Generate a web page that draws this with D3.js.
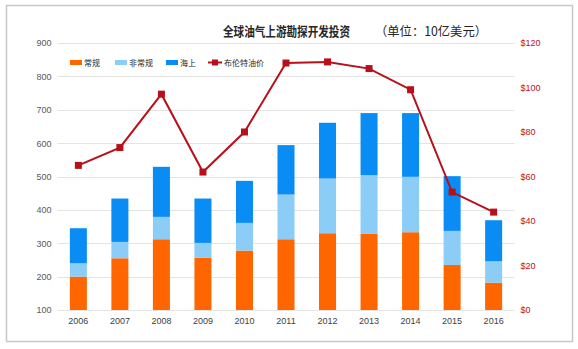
<!DOCTYPE html>
<html>
<head>
<meta charset="utf-8">
<script src="https://cdn.jsdelivr.net/npm/d3@7"></script>
<style>
  body { margin: 0; background: #fff; }
  svg { font-family: "Noto Sans CJK SC", "Liberation Sans", sans-serif; }
</style>
</head>
<body>
<svg id="chart" width="578" height="349"></svg>
<script>
// data (10亿美元 / 美元每桶)
const years = ["2006","2007","2008","2009","2010","2011","2012","2013","2014","2015","2016"];
const conventional = [200, 255, 312, 257, 278, 312, 330, 328, 333, 235, 182];
const unconventional = [40, 49, 67, 44, 83, 134, 164, 176, 166, 102, 64];
const offshore = [105, 130, 150, 133, 126, 148, 167, 186, 191, 164, 123];
const brent = [65, 73, 97, 62, 80, 111, 111.5, 108.5, 99, 53, 44];

const seriesNames = ["常规", "非常规", "海上"];
const seriesColors = ["#ff6600", "#8ccdf8", "#0a8cf5"];
const lineName = "布伦特油价";
const lineColor = "#b8101a";

const leftTicks = [100, 200, 300, 400, 500, 600, 700, 800, 900];
const rightTicks = [0, 20, 40, 60, 80, 100, 120];

const layout = {left: 57.6, right: 514.4, top: 43, bottom: 310};

const svg = d3.select("#chart");

// frame
svg.append("rect")
   .attr("x", 6.5).attr("y", 5.5)
   .attr("width", 566).attr("height", 336)
   .attr("fill", "#fff")
   .attr("stroke", "#c8c8c8")
   .attr("stroke-width", 1.5);

const x = d3.scaleBand()
            .domain(years)
            .range([layout.left, layout.right])
            .paddingInner(0.59)
            .paddingOuter(0.295);

const y = d3.scaleLinear()
            .domain([100, 900])
            .range([layout.bottom, layout.top]);

const y2 = d3.scaleLinear()
             .domain([0, 120])
             .range([layout.bottom, layout.top]);

// gridlines
svg.append("g")
   .selectAll("line")
   .data(leftTicks)
   .join("line")
   .attr("x1", layout.left).attr("x2", layout.right)
   .attr("y1", d => Math.round(y(d)) + 0.5)
   .attr("y2", d => Math.round(y(d)) + 0.5)
   .attr("stroke", "#e4e4e4")
   .attr("stroke-width", 1);

// stacked bars
const table = years.map((yr, i) => ({year: yr, s0: conventional[i], s1: unconventional[i], s2: offshore[i]}));
const stack = d3.stack().keys(["s0", "s1", "s2"])(table);

svg.append("g")
   .selectAll("g")
   .data(stack)
   .join("g")
   .attr("fill", (d, i) => seriesColors[i])
   .selectAll("rect")
   .data(d => d)
   .join("rect")
   .attr("x", d => x(d.data.year))
   .attr("width", x.bandwidth())
   .attr("y", d => y(d[1]))
   .attr("height", d => y(Math.max(d[0], 100)) - y(d[1]));

// left axis
const yAxis = svg.append("g")
   .attr("transform", `translate(${layout.left - 6}, 0)`)
   .call(d3.axisLeft(y).tickValues(leftTicks).tickSize(0).tickPadding(0));
yAxis.select(".domain").remove();
yAxis.selectAll("text")
     .attr("fill", "#595959")
     .attr("font-size", 9)
     .attr("font-family", "Liberation Sans Narrow, Liberation Sans, sans-serif");

// right axis
const y2Axis = svg.append("g")
   .attr("transform", `translate(${layout.right + 6}, 0)`)
   .call(d3.axisRight(y2).tickValues(rightTicks).tickSize(0).tickPadding(0).tickFormat(d => "$" + d));
y2Axis.select(".domain").remove();
y2Axis.selectAll("text")
      .attr("fill", "#c0101a")
      .attr("font-size", 9)
      .attr("font-family", "Liberation Sans Narrow, Liberation Sans, sans-serif");

// bottom axis
const xAxis = svg.append("g")
   .attr("transform", `translate(0, ${layout.bottom + 8})`)
   .call(d3.axisBottom(x).tickSize(0).tickPadding(0));
xAxis.select(".domain").remove();
xAxis.selectAll("text")
     .attr("fill", "#404040")
     .attr("font-size", 9)
     .attr("font-family", "Liberation Sans Narrow, Liberation Sans, sans-serif");

// brent line
const cx = yr => x(yr) + x.bandwidth() / 2;
const line = d3.line()
               .x((d, i) => cx(years[i]))
               .y(d => y2(d));

svg.append("path")
   .datum(brent)
   .attr("d", line)
   .attr("fill", "none")
   .attr("stroke", lineColor)
   .attr("stroke-width", 2);

svg.append("g")
   .selectAll("rect")
   .data(brent)
   .join("rect")
   .attr("x", (d, i) => cx(years[i]) - 3.5)
   .attr("y", d => y2(d) - 3.5)
   .attr("width", 7).attr("height", 7)
   .attr("fill", lineColor);

// title
svg.append("text")
   .attr("x", 223).attr("y", 35.5)
   .attr("font-size", 13)
   .attr("font-weight", "bold")
   .attr("fill", "#262626")
   .attr("textLength", 127)
   .attr("lengthAdjust", "spacingAndGlyphs")
   .text("全球油气上游勘探开发投资");
svg.append("text")
   .attr("x", 375).attr("y", 35.5)
   .attr("font-size", 12.5)
   .attr("fill", "#262626")
   .attr("textLength", 112)
   .attr("lengthAdjust", "spacingAndGlyphs")
   .text("（单位：10亿美元）");

// legend
const legend = svg.append("g").attr("font-size", 8).attr("fill", "#262626");
const legendX = [70, 115, 166];
seriesNames.forEach((name, i) => {
  legend.append("rect")
        .attr("x", legendX[i]).attr("y", 60)
        .attr("width", 12).attr("height", 5)
        .attr("fill", seriesColors[i]);
  legend.append("text")
        .attr("x", legendX[i] + 14).attr("y", 65.5)
        .text(name);
});
legend.append("line")
      .attr("x1", 208).attr("x2", 222)
      .attr("y1", 62.5).attr("y2", 62.5)
      .attr("stroke", lineColor).attr("stroke-width", 2);
legend.append("rect")
      .attr("x", 212).attr("y", 59.5)
      .attr("width", 6).attr("height", 6)
      .attr("fill", lineColor);
legend.append("text")
      .attr("x", 224).attr("y", 65.5)
      .text(lineName);
</script>
</body>
</html>
